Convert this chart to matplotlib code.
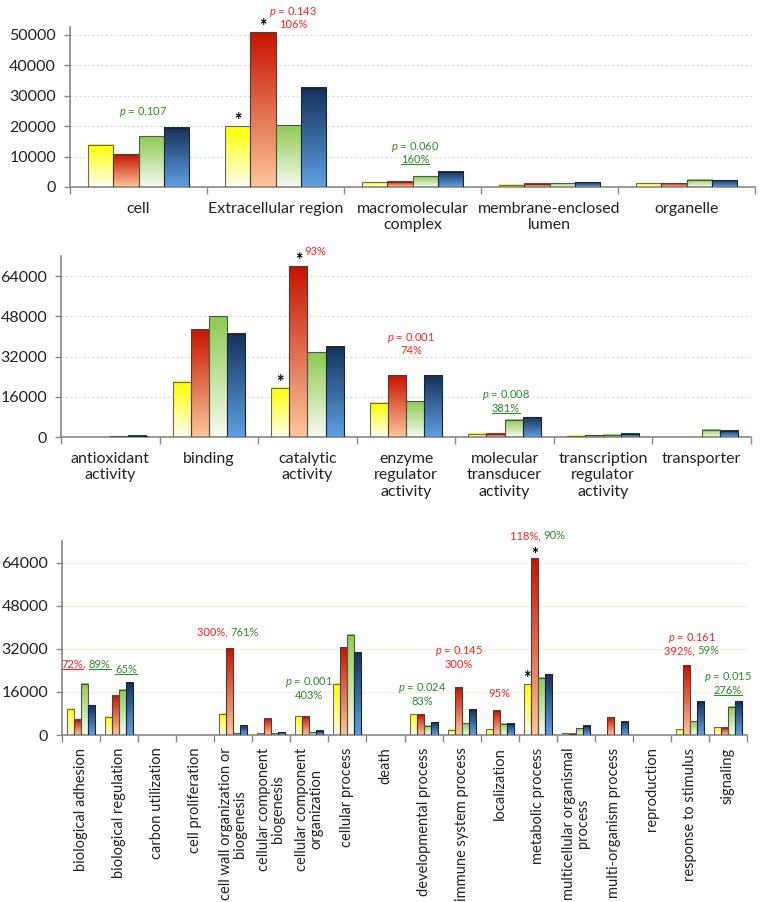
import numpy as np
import matplotlib.pyplot as plt
from matplotlib.colors import LinearSegmentedColormap
from matplotlib.lines import Line2D

plt.rcParams['font.family'] = 'Lato'
plt.rcParams['mathtext.fontset'] = 'custom'
plt.rcParams['mathtext.it'] = 'Lato:italic'
plt.rcParams['mathtext.rm'] = 'Lato'

# cellular component
cc_cats = ['cell', 'Extracellular region', 'macromolecular\ncomplex',
           'membrane-enclosed\nlumen', 'organelle']
cc_yellow = [13900, 19900, 1500, 750, 1300]
cc_red = [10800, 50900, 1750, 1000, 1300]
cc_green = [16600, 20350, 3500, 1300, 2400]
cc_blue = [19400, 32700, 5000, 1500, 2200]

# molecular function
mf_cats = ['antioxidant\nactivity', 'binding', 'catalytic\nactivity',
           'enzyme\nregulator\nactivity', 'molecular\ntransducer\nactivity',
           'transcription\nregulator\nactivity', 'transporter']
mf_yellow = [0, 21900, 19600, 13650, 1300, 400, 0]
mf_red = [0, 42800, 68000, 24500, 1300, 660, 0]
mf_green = [300, 48100, 33800, 14300, 6900, 900, 2900]
mf_blue = [600, 41100, 35900, 24500, 7950, 1300, 2400]

# biological process
bp_cats = ['biological adhesion', 'biological regulation', 'carbon utilization',
           'cell proliferation', 'cell wall organization or\nbiogenesis',
           'cellular component\nbiogenesis', 'cellular component\norganization',
           'cellular process', 'death', 'developmental process',
           'immune system process', 'localization', 'metabolic process',
           'multicellular organismal\nprocess', 'multi-organism process',
           'reproduction', 'response to stimulus', 'signaling']
bp_yellow = [9700, 6800, 0, 0, 7800, 600, 6950, 19000, 0, 7700, 1900, 2200, 18850, 600, 0, 0, 2100, 2850]
bp_red = [5700, 14600, 0, 0, 32000, 6000, 6800, 32500, 0, 7450, 17500, 9050, 65400, 500, 6600, 0, 25900, 2600]
bp_green = [19000, 16750, 0, 0, 600, 600, 1000, 37200, 0, 3500, 4350, 4100, 21200, 2500, 0, 0, 5100, 10400]
bp_blue = [11000, 19350, 0, 0, 3600, 1100, 1500, 30800, 0, 4700, 9300, 4100, 22600, 3350, 4850, 0, 12300, 12500]

tops = ['#ffff00', '#c81400', '#8fca52', '#14325a']
bottoms = ['#fdfdf2', '#fbc69c', '#f6faf0', '#5f9fe2']
edges = ['#6a6a5a', '#5a3a30', '#4f5a45', '#1a2535']
offsets = [-0.276, -0.092, 0.092, 0.276]
bw = 0.184
RED = '#ff2020'
GREEN = '#2e8b2e'
grad = np.linspace(0, 1, 64).reshape(-1, 1)

fig = plt.figure(figsize=(7.62, 9.02), dpi=100)
ax1 = fig.add_axes([0.0919, 0.7927, 0.899, 0.1774])
ax2 = fig.add_axes([0.0801, 0.5155, 0.9055, 0.2007])
ax3 = fig.add_axes([0.0814, 0.1851, 0.899, 0.2151])


def bars(ax, series, cats, ymax, yticks, gridstyle):
    n = len(cats)
    x = np.arange(n)
    for k, vals in enumerate(series):
        bs = ax.bar(x + offsets[k], vals, width=bw, facecolor='none',
                    edgecolor=edges[k], linewidth=0.8, zorder=3)
        cmap = LinearSegmentedColormap.from_list('g%d' % k, [bottoms[k], tops[k]])
        for b in bs:
            h = b.get_height()
            if h <= 0:
                b.set_visible(False)
                continue
            ax.imshow(grad, cmap=cmap, origin='lower', aspect='auto', zorder=2,
                      extent=(b.get_x(), b.get_x() + b.get_width(), 0, h))
    ax.set_xlim(-0.5, n - 0.5)
    ax.set_ylim(0, ymax)
    ax.set_yticks(yticks)
    ax.set_xticks(x)
    ax.set_xticks(np.arange(n + 1) - 0.5, minor=True)
    ax.tick_params(axis='x', which='major', length=0)
    ax.tick_params(axis='x', which='minor', length=5, color='#888888', width=1)
    ax.tick_params(axis='y', length=4, color='#888888', width=1, labelsize=11.5,
                   labelcolor='#222222', pad=6)
    for s in ['top', 'right']:
        ax.spines[s].set_visible(False)
    for s in ['left', 'bottom']:
        ax.spines[s].set_color('#888888')
        ax.spines[s].set_linewidth(1.2)
    if gridstyle == 'dot':
        ax.grid(axis='y', color='#cfcfcf', linestyle=(0, (1.5, 2.5)), linewidth=0.8)
    else:
        ax.grid(axis='y', color='#f3f1e0', linestyle='-', linewidth=0.9)
    ax.set_axisbelow(True)


bars(ax1, [cc_yellow, cc_red, cc_green, cc_blue], cc_cats, 52600,
     np.arange(0, 50001, 10000), 'dot')
ax1.set_xticklabels(cc_cats, fontsize=11.5, color='#222222', linespacing=1.15)
ax1.tick_params(axis='x', which='major', pad=11)

bars(ax2, [mf_yellow, mf_red, mf_green, mf_blue], mf_cats, 72000,
     np.arange(0, 64001, 16000), 'dot')
ax2.set_xticklabels(mf_cats, fontsize=11.5, color='#222222', linespacing=1.2)
ax2.tick_params(axis='x', which='major', pad=11)

bars(ax3, [bp_yellow, bp_red, bp_green, bp_blue], bp_cats, 72000,
     np.arange(0, 64001, 16000), 'solid')
ax3.set_xticklabels(bp_cats, fontsize=10.5, color='#222222', rotation=90,
                    linespacing=1.0, multialignment='center')
ax3.tick_params(axis='x', which='major', pad=9)

pending = []


def note(ax, x, y, parts, fs=8):
    # parts: (text, colour, underline); centred on x as one line
    ts = [ax.annotate(s, (x, y), xytext=(0, 0), textcoords='offset pixels',
                      ha='left', va='center', color=c, fontsize=fs,
                      annotation_clip=False) for s, c, u in parts]
    pending.append((ts, [u for s, c, u in parts]))


def star(ax, x, y, fs=13):
    ax.text(x, y, '*', ha='center', va='baseline', fontsize=fs,
            fontweight='bold', color='black', clip_on=False)


# cellular component notes
note(ax1, 0.03, 24700, [(r'$p$ = 0.107', GREEN, False)])
star(ax1, 1 + offsets[0], cc_yellow[1])
star(ax1, 1 + offsets[1], cc_red[1])
note(ax1, 1.13, 57600, [(r'$p$ = 0.143', RED, False)])
note(ax1, 1.13, 53300, [('106%', RED, False)])
note(ax1, 2.02, 13150, [(r'$p$ = 0.060', GREEN, False)])
note(ax1, 2.02, 8900, [('160%', GREEN, True)])

# molecular function notes
star(ax2, 2 + offsets[0], mf_yellow[2])
star(ax2, 2 + offsets[1], mf_red[2])
note(ax2, 2.08, 73900, [('93%', RED, False)])
note(ax2, 3.05, 39350, [(r'$p$ = 0.001', RED, False)])
note(ax2, 3.05, 34600, [('74%', RED, False)])
note(ax2, 4.01, 16700, [(r'$p$ = 0.008', GREEN, False)])
note(ax2, 4.01, 11500, [('381%', GREEN, True)])

# biological process notes
note(ax3, 0.13, 26270, [('72%', RED, True), (', ', RED, False), ('89%', GREEN, True)])
note(ax3, 1.18, 24400, [('65%', GREEN, True)])
note(ax3, 3.86, 38100, [('300%, ', RED, False), ('761%', GREEN, False)])
note(ax3, 5.99, 19600, [(r'$p$ = 0.001', GREEN, False)])
note(ax3, 5.99, 14800, [('403%', GREEN, False)])
note(ax3, 8.96, 17400, [(r'$p$ = 0.024', GREEN, False)])
note(ax3, 8.96, 12600, [('83%', GREEN, False)])
note(ax3, 9.93, 31100, [(r'$p$ = 0.145', RED, False)])
note(ax3, 9.93, 26300, [('300%', RED, False)])
note(ax3, 11.0, 15500, [('95%', RED, False)])
note(ax3, 12.0, 74000, [('118%, ', RED, False), ('90%', GREEN, False)])
star(ax3, 12 + offsets[0], bp_yellow[12])
star(ax3, 12 + offsets[1], bp_red[12] - 600, fs=12)
note(ax3, 16.05, 36100, [(r'$p$ = 0.161', RED, False)])
note(ax3, 16.05, 31300, [('392%, ', RED, False), ('59%', GREEN, False)])
note(ax3, 17.0, 21700, [(r'$p$ = 0.015', GREEN, False)])
note(ax3, 17.0, 16600, [('276%', GREEN, True)])

fig.canvas.draw()
r = fig.canvas.get_renderer()
for ts, us in pending:
    ws = [t.get_window_extent(r).width for t in ts]
    cur = -sum(ws) / 2
    for t, w in zip(ts, ws):
        t.xyann = (cur, 0)
        cur += w
fig.canvas.draw()
inv = fig.transFigure.inverted()
for ts, us in pending:
    for t, u in zip(ts, us):
        if u:
            bb = t.get_window_extent(r)
            (x0, y0), (x1, y1) = inv.transform([(bb.x0, bb.y0 + 1), (bb.x1, bb.y0 + 1)])
            fig.add_artist(Line2D([x0, x1], [y0, y1], color=t.get_color(), lw=0.8))

fig.savefig('out.png', dpi=100)
